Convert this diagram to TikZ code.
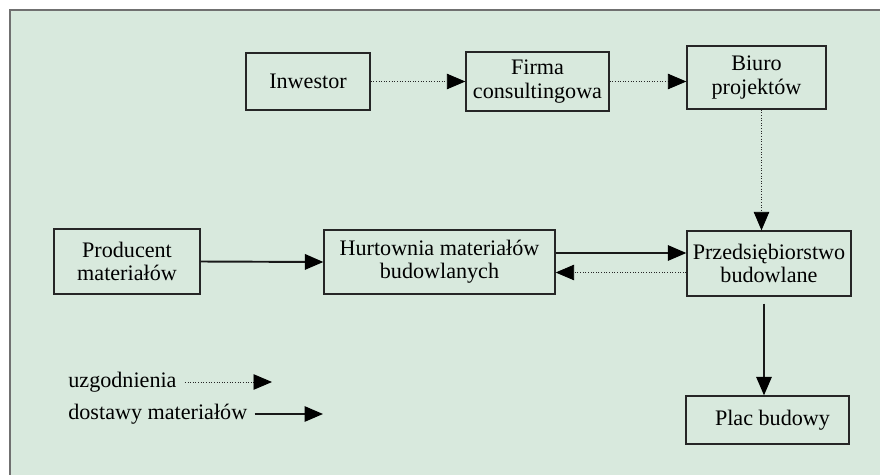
\documentclass[tikz,border=0pt]{standalone}
\usepackage{fontspec}
\setmainfont{Liberation Serif}
\usepackage{tikz}
\usetikzlibrary{arrows.meta,positioning,calc}
\usepackage{xcolor}
\definecolor{tlo}{HTML}{D8E9DD}
\definecolor{ramka}{HTML}{707070}

\begin{document}
\begin{tikzpicture}[x=0.02cm,y=-0.02cm,
    blok/.style={draw=black!85,line width=0.75pt,fill=tlo,align=center,inner sep=1pt,
                 font=\fontsize{12.6}{13.2}\selectfont},
    opis/.style={anchor=west,inner sep=0pt,font=\fontsize{12.6}{13.2}\selectfont},
    grot/.style={-{Triangle[length=0.37cm,width=0.31cm,color=black,fill=black]}},
    uzg/.style={grot,densely dotted,line width=0.5pt,black!85},
    dost/.style={grot,line width=0.8pt,black!90}]
                \useasboundingbox (0,0) rectangle (880,474);
                \draw[fill=tlo,draw=ramka,line width=1.2pt] (10,10) rectangle (890,484);
                % gora
                \node[blok,minimum width=124*0.02cm,minimum height=57*0.02cm] (inw) at (308,81.5) {Inwestor};
                \node[blok,minimum width=143*0.02cm,minimum height=59*0.02cm] (firma) at (537.5,81.5) {Firma\\consultingowa};
                \node[blok,minimum width=139*0.02cm,minimum height=63*0.02cm] (biuro) at (756.5,77.5) {Biuro\\projektów};
                % srodek
                \node[blok,minimum width=146*0.02cm,minimum height=65*0.02cm] (prod) at (127,261.5) {Producent\\materiałów};
                \node[blok,minimum width=231*0.02cm,minimum height=64*0.02cm] (hurt) at (439.5,262) {Hurtownia materiałów\\budowlanych};
                \node[blok,minimum width=164*0.02cm,minimum height=65*0.02cm] (przed) at (769,263.5) {Przedsiębiorstwo\\budowlane};
                \node[blok,minimum width=163*0.02cm,minimum height=48*0.02cm] (plac) at (767.5,420) {\hspace*{0.2cm}Plac budowy};
                % polaczenia
                \draw[uzg] (inw.east) -- (firma.west);
                \draw[uzg] (firma.east) -- (firma.east -| biuro.west);
                \draw[uzg] ([xshift=5*0.02cm]biuro.south) -- ([xshift=5*0.02cm]biuro.south |- przed.north);
                \draw[dost,line width=1.1pt] (prod.east) -- (hurt.west);
                \draw[dost] ([yshift=9*0.02cm]hurt.east) -- ([yshift=9*0.02cm]hurt.east -| przed.west);
                \draw[uzg] ([yshift=-9*0.02cm]przed.west) -- ([yshift=-9*0.02cm]przed.west -| hurt.east);
                \draw[dost] ([xshift=-5*0.02cm,yshift=-7*0.02cm]przed.south) -- ([xshift=-5*0.02cm]przed.south |- plac.north);
                % legenda
                \node[opis] (l1) at (68,382) {uzgodnienia};
                \node[opis] (l2) at (68,414) {dostawy materiałów};
                \coordinate (l1end) at (272,382);
                \coordinate (l2end) at (323,414);
                \draw[uzg] ([xshift=8*0.02cm]l1.east) -- (l1end);
                \draw[dost] ([xshift=7*0.02cm]l2.east) -- (l2end);
            \end{tikzpicture}
\end{document}
